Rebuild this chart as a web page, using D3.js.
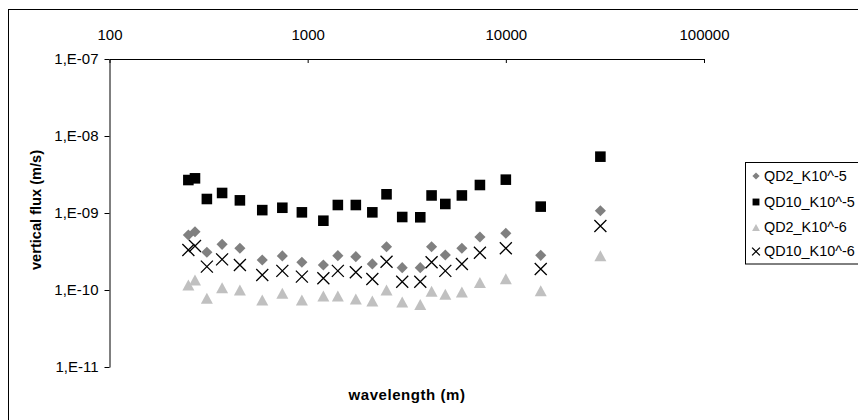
<!DOCTYPE html>
<html><head><meta charset="utf-8">
<script src="https://cdn.jsdelivr.net/npm/d3@7"></script>
<style>
body{margin:0;background:#fff;}
svg{display:block;font-family:"Liberation Sans",Arial,sans-serif;}
</style></head>
<body><svg id="c" width="858" height="420"></svg>
<script>
const wavelengths = [250, 270, 310, 370, 455, 590, 745, 935, 1200, 1420, 1750, 2120, 2500, 3000, 3700, 4220, 4950, 6000, 7400, 10000, 15000, 30000];
const qd2_k5  = [5.18e-10, 5.71e-10, 3.09e-10, 3.92e-10, 3.48e-10, 2.45e-10, 2.77e-10, 2.29e-10, 2.11e-10, 2.79e-10, 2.71e-10, 2.18e-10, 3.65e-10, 1.95e-10, 1.95e-10, 3.65e-10, 2.85e-10, 3.48e-10, 4.88e-10, 5.45e-10, 2.82e-10, 1.07e-9];
const qd10_k5 = [2.68e-9, 2.82e-9, 1.52e-9, 1.82e-9, 1.46e-9, 1.09e-9, 1.17e-9, 1.02e-9, 7.94e-10, 1.27e-9, 1.27e-9, 1.02e-9, 1.75e-9, 8.87e-10, 8.8e-10, 1.69e-9, 1.31e-9, 1.69e-9, 2.31e-9, 2.71e-9, 1.21e-9, 5.39e-9];
const qd2_k6  = [1.16e-10, 1.35e-10, 7.8e-11, 1.07e-10, 1.0e-10, 7.41e-11, 9.06e-11, 7.41e-11, 8.36e-11, 8.36e-11, 7.64e-11, 7.2e-11, 1.0e-10, 6.99e-11, 6.48e-11, 9.62e-11, 8.8e-11, 9.42e-11, 1.25e-10, 1.4e-10, 9.77e-11, 2.78e-10];
const qd10_k6 = [3.31e-10, 3.73e-10, 2.01e-10, 2.5e-10, 2.11e-10, 1.57e-10, 1.77e-10, 1.49e-10, 1.42e-10, 1.77e-10, 1.7e-10, 1.39e-10, 2.33e-10, 1.28e-10, 1.28e-10, 2.29e-10, 1.77e-10, 2.18e-10, 3.05e-10, 3.48e-10, 1.87e-10, 6.78e-10];
const seriesNames = ["QD2_K10^-5", "QD10_K10^-5", "QD2_K10^-6", "QD10_K10^-6"];
const xTicks = [100, 1000, 10000, 100000];
const yTicks = [1e-11, 1e-10, 1e-9, 1e-8, 1e-7];

const svg = d3.select("#c");
const x = d3.scaleLog().domain([100, 100000]).range([109.5, 704]);
const y = d3.scaleLog().domain([1e-11, 1e-7]).range([367, 59]);

// outer border
svg.append("rect").attr("x", 8.5).attr("y", 9.5).attr("width", 900).attr("height", 500)
  .attr("fill", "none").attr("stroke", "#000").attr("stroke-width", 1);

// top x axis
const gx = svg.append("g").attr("transform", `translate(0,${y(1e-7)})`)
  .call(d3.axisBottom(x).tickValues(xTicks).tickSizeInner(4).tickSizeOuter(0).tickFormat(d3.format("d")));
gx.select(".domain").attr("stroke", "#000");
gx.selectAll("text").attr("y", -19).attr("dy", 0).attr("font-size", 15).attr("fill", "#000")
  .attr("font-family", "Liberation Sans, Arial, sans-serif");

// y axis
const fmtY = d => "1,E-" + String(-Math.round(Math.log10(d))).padStart(2, "0");
const gy = svg.append("g").attr("transform", `translate(${x(100)},0)`)
  .call(d3.axisLeft(y).tickValues(yTicks).tickSizeInner(5).tickSizeOuter(0).tickPadding(6).tickFormat(fmtY));
gy.selectAll("text").attr("font-size", 15).attr("fill", "#000")
  .attr("font-family", "Liberation Sans, Arial, sans-serif");

// axis titles
svg.append("text").attr("transform", "translate(41,210) rotate(-90)").attr("text-anchor", "middle")
  .attr("font-size", 14.6).attr("font-weight", "bold").text("vertical flux (m/s)");
svg.append("text").attr("x", 407).attr("y", 400).attr("text-anchor", "middle")
  .attr("font-size", 15).attr("font-weight", "bold").attr("letter-spacing", 0.55).text("wavelength (m)");

function drawMarker(g, kind, s) {
  if (kind === "diamond") {
    g.append("path").attr("d", d3.symbol().type(d3.symbolSquare).size(62 * s * s)()).attr("transform", "rotate(45)").attr("fill", "#808080");
  } else if (kind === "square") {
    g.append("path").attr("d", d3.symbol().type(d3.symbolSquare).size(112 * s * s)()).attr("fill", "#000");
  } else if (kind === "triangle") {
    const w = 12 * s, h = 11 * s;
    g.append("path").attr("d", `M0,${-h/2}L${w/2},${h/2}L${-w/2},${h/2}Z`).attr("fill", "#c0c0c0");
  } else {
    const r = 6 * s;
    g.append("path").attr("d", `M${-r},${-r}L${r},${r}M${-r},${r}L${r},${-r}`).attr("stroke", "#000").attr("stroke-width", 1.3).attr("fill", "none");
  }
}
const series = [
  {name: seriesNames[0], values: qd2_k5, kind: "diamond"},
  {name: seriesNames[1], values: qd10_k5, kind: "square"},
  {name: seriesNames[2], values: qd2_k6, kind: "triangle"},
  {name: seriesNames[3], values: qd10_k6, kind: "cross"}
];
const drawOrder = [1, 0, 2, 3];
drawOrder.forEach(i => {
  const s = series[i];
  const g = svg.append("g");
  s.values.forEach((v, j) => {
    const m = g.append("g").attr("transform", `translate(${x(wavelengths[j])},${y(v)})`);
    drawMarker(m, s.kind, 1);
  });
});

// legend
const lg = svg.append("g");
lg.append("rect").attr("x", 745.5).attr("y", 162.5).attr("width", 130).attr("height", 101.5)
  .attr("fill", "#fff").attr("stroke", "#000");
const rowsY = [175, 201, 226.5, 250.5];
series.forEach((s, i) => {
  const m = lg.append("g").attr("transform", `translate(756,${rowsY[i] + 1})`);
  drawMarker(m, s.kind, 0.65);
  lg.append("text").attr("x", 764).attr("y", rowsY[i] + 5.5).attr("font-size", 14.4).text(s.name);
});
</script></body></html>
